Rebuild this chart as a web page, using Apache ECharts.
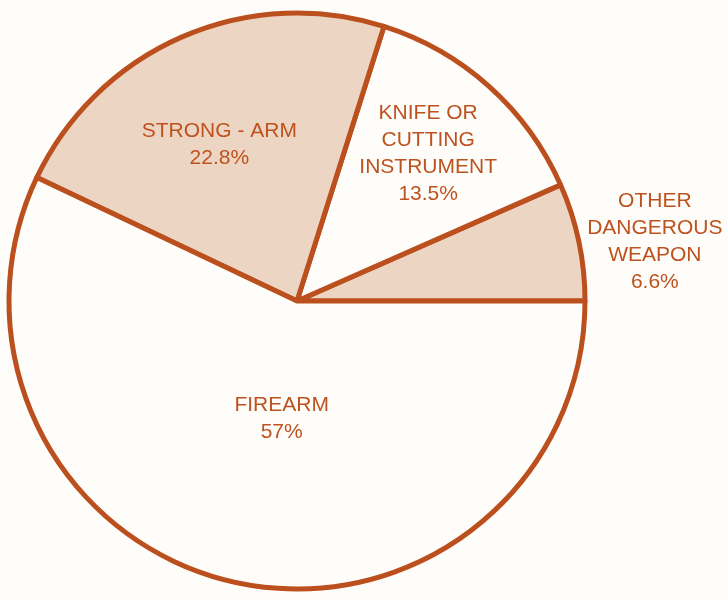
<!DOCTYPE html>
<html>
<head>
<meta charset="utf-8">
<style>
  html, body { margin: 0; padding: 0; background: #fefdf9; }
  #chart { width: 728px; height: 599px; }
</style>
<script src="https://cdn.jsdelivr.net/npm/echarts@6/dist/echarts.min.js"></script>
</head>
<body>
<div id="chart"></div>
<script>
// slices, counter-clockwise from 3 o'clock
const categories = ['OTHER\nDANGEROUS\nWEAPON', 'KNIFE OR\nCUTTING\nINSTRUMENT', 'STRONG - ARM', 'FIREARM']
const percents = [6.6, 13.5, 22.8, 57]
const valueLabels = ['6.6%', '13.5%', '22.8%', '57%']
const shaded = [true, false, true, false]

// label nudges away from the default inside spot
const labelOffsets = [[214, -29], [33, -38], [-19, -22], [17, -26]]

const chart = echarts.init(document.getElementById('chart'))

const line = '#bb4f1d'
const tint = '#edd5c4'

chart.setOption({
  backgroundColor: '#fefdf9',
  animation: false,
  series: [
    {
      type: 'pie',
      center: [297, 301],
      radius: 288,
      startAngle: 0,
      clockwise: false,
      avoidLabelOverlap: false,
      silent: true,
      itemStyle: { borderColor: line, borderWidth: 5 },
      label: {
        show: true,
        position: 'inside',
        color: '#be521e',
        fontFamily: 'Liberation Sans, Arial, sans-serif',
        fontSize: 21,
        lineHeight: 27,
        align: 'center',
        formatter: (p) => p.name + '\n' + valueLabels[p.dataIndex]
      },
      labelLine: { show: false },
      data: categories.map((name, i) => ({
        name: name,
        value: percents[i],
        itemStyle: { color: shaded[i] ? tint : '#fefdf9' },
        label: { offset: labelOffsets[i] }
      }))
    }
  ]
})
</script>
</body>
</html>
